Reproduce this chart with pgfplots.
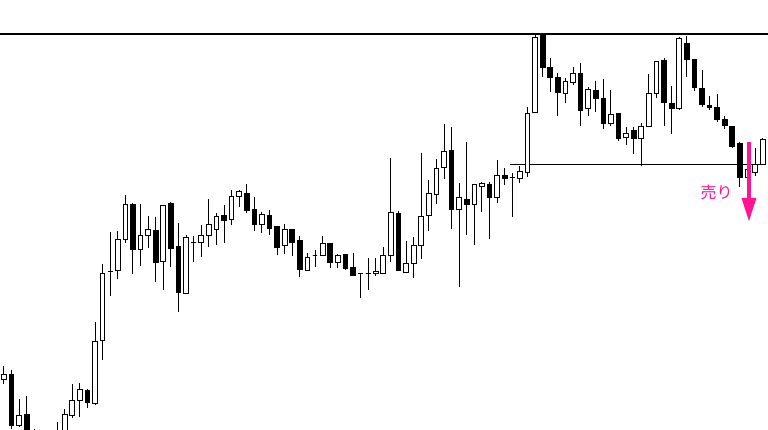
\documentclass[border=0pt]{standalone}
\usepackage{pgfplots}
\pgfplotsset{compat=1.18}
\usepackage{pgfplotstable}
\usepgfplotslibrary{statistics}
\usepackage{fontspec}
\newfontfamily\cjk{Noto Sans CJK JP}
\definecolor{sellpink}{HTML}{FF1493}

\pgfplotstableread{
i o h l c
0 50 64.3 46 55.7
1 55 60 1 4.3
2 4.3 31 2.7 14
3 15.7 34.3 -20 -10
4 -5 1.3 -25 -15
5 -20 -5 -40 -30
6 -25 -3 -40 -10
7 -15 8.3 -20 -2
8 -3 20.7 -8 15
9 14 45.7 11.7 29.3
10 29 46.7 13.3 40.7
11 39.7 41 22.3 27
12 26 108.3 25 88
13 89 166 70 156.7
14 158 198.3 134.3 158
15 159.3 199.3 150.7 190.7
16 190.7 235.3 186.7 225.7
17 225.7 226.5 156 180
18 180.7 226 164 194.3
19 194.3 214.3 181.7 200
20 199.3 213.3 148.3 167.7
21 168.3 224.5 140 224
22 226 228.3 162.7 181.7
23 183.3 206.7 118.3 137.3
24 136 195 136 192.3
25 187.7 194.3 167.7 187.7
26 187.7 205 172.7 194.3
27 194.3 230.7 182.7 205
28 200.7 217 185 213.3
29 214.3 225 187.3 209.3
30 210 240 205 233.3
31 233.3 240 222.7 238
32 236 245.7 216.7 219.3
33 220 232.7 199.3 205.7
34 205.7 218.3 196.7 215.7
35 214.3 220 195 201.7
36 203.3 203.3 175 182.7
37 184 206 175.7 200
38 200 200.7 174 187.3
39 189 194.3 152.7 160
40 159 177.3 159 172.3
41 174 180 163.3 174
42 174 193.7 174 186.7
43 186 186 161.7 167.5
44 167.7 176 162.3 174.3
45 175 176 160 161.7
46 162.7 177.3 154.3 154.3
47 156 156 132.3 156
48 156.7 171.7 140 156.7
49 156 171.7 154.3 158.7
50 156.7 182.7 156.7 174.3
51 174.3 271.7 167.7 217.3
52 216.7 219 159 159
53 157.7 189 157.7 166.7
54 166.7 192.7 152.3 184
55 184 277.3 171 213.3
56 214 250 199.3 236
57 235 270.7 225.7 261.7
58 262.7 306 251 278
59 279.3 302.7 200.7 220
60 220 246.7 143.3 232.7
61 230.7 287.7 195 225.7
62 225.7 246 185 245
63 243.3 248.3 218.3 246.7
64 245 248.3 191 232.3
65 232.3 270 226.7 254.3
66 254.3 261.7 245 251
67 252.3 256.7 212.7 252.3
68 251 264.3 246.7 258.3
69 257.7 322.7 253.3 316.7
70 317.7 395 317.7 392.7
71 394 394 353.3 362.3
72 362.3 371.7 337.7 352.3
73 352.3 356.7 314.3 337.3
74 336.7 352 327 348.3
75 347.7 363.3 345 356.7
76 356.7 367.3 304 319.3
77 321.7 342.7 314 340.7
78 339.3 349.3 318.3 331.7
79 331 351 300.7 306
80 306.7 340 304.3 315.7
81 316 316 289 291.7
82 292.7 303.3 285 296.7
83 299 303.3 276 291.7
84 291 306.7 264.3 303.3
85 303.3 356 303.3 336.7
86 336.7 368.3 331.7 368.3
87 369 371.7 304 327.3
88 326 344 296 321
89 321 393.3 320 391
90 386 394 353.3 370.7
91 370.7 370.7 339.3 342.7
92 341.7 360 323.3 325
93 324.3 334 320 322.7
94 322.7 335.7 308.3 310.7
95 310.7 314 301 304.3
96 303.3 303.3 282.7 283.3
97 286 288.3 243.3 252.3
98 252.3 265 251.7 260.7
99 257.7 281.7 254.3 265.7
100 265.7 291.7 265 290.7
}\candles

\begin{document}
\begin{tikzpicture}
\fill[white] (0,0) rectangle (768bp,430bp);
\begin{axis}[
  at={(0,0)}, anchor=south west,
  width=768bp, height=430bp, scale only axis,
  xmin=-0.527, xmax=100.7, ymin=0, ymax=430,
  hide axis, clip=true,
  boxplot/draw direction=y,
]
% top line
\addplot[black, line width=2bp] coordinates {(-1,396) (102,396)};
% neckline
\addplot[black, line width=1bp] coordinates {(66.7,265) (99.7,265)};

\pgfplotstablegetrowsof{\candles}
\pgfmathtruncatemacro{\lastrow}{\pgfplotsretval-1}
\pgfplotsforeachungrouped \r in {0,...,\lastrow}{%
  \pgfplotstablegetelem{\r}{i}\of\candles \let\ci\pgfplotsretval
  \pgfplotstablegetelem{\r}{o}\of\candles \let\co\pgfplotsretval
  \pgfplotstablegetelem{\r}{h}\of\candles \let\ch\pgfplotsretval
  \pgfplotstablegetelem{\r}{l}\of\candles \let\cl\pgfplotsretval
  \pgfplotstablegetelem{\r}{c}\of\candles \let\cc\pgfplotsretval
  \pgfmathsetmacro\bl{min(\co,\cc)}%
  \pgfmathsetmacro\bh{max(\co,\cc)}%
  \ifdim\cc pt<\co pt \def\cf{black}\else\def\cf{white}\fi
  \edef\doplot{\noexpand\addplot[draw=black, fill=\cf, line width=1bp,
    boxplot prepared={draw position=\ci, lower whisker=\cl, lower quartile=\bl,
    median=\bl, upper quartile=\bh, upper whisker=\ch, box extend=0.62,
    whisker extend=0, draw direction=y}] coordinates {};}%
  \doplot
}

% sell arrow
\draw[sellpink, line width=3.5bp] (axis cs:98.19,288) -- (axis cs:98.19,230);
\fill[sellpink] (axis cs:97.2,232) -- (axis cs:99.18,232) -- (axis cs:98.19,209) -- cycle;
\node[text=sellpink, font=\cjk\fontsize{16bp}{18bp}\selectfont, inner sep=0pt] at (axis cs:93.94,238) {売り};
\end{axis}
\pgfresetboundingbox
\path (0,0) rectangle (768bp,430bp);
\end{tikzpicture}
\end{document}
